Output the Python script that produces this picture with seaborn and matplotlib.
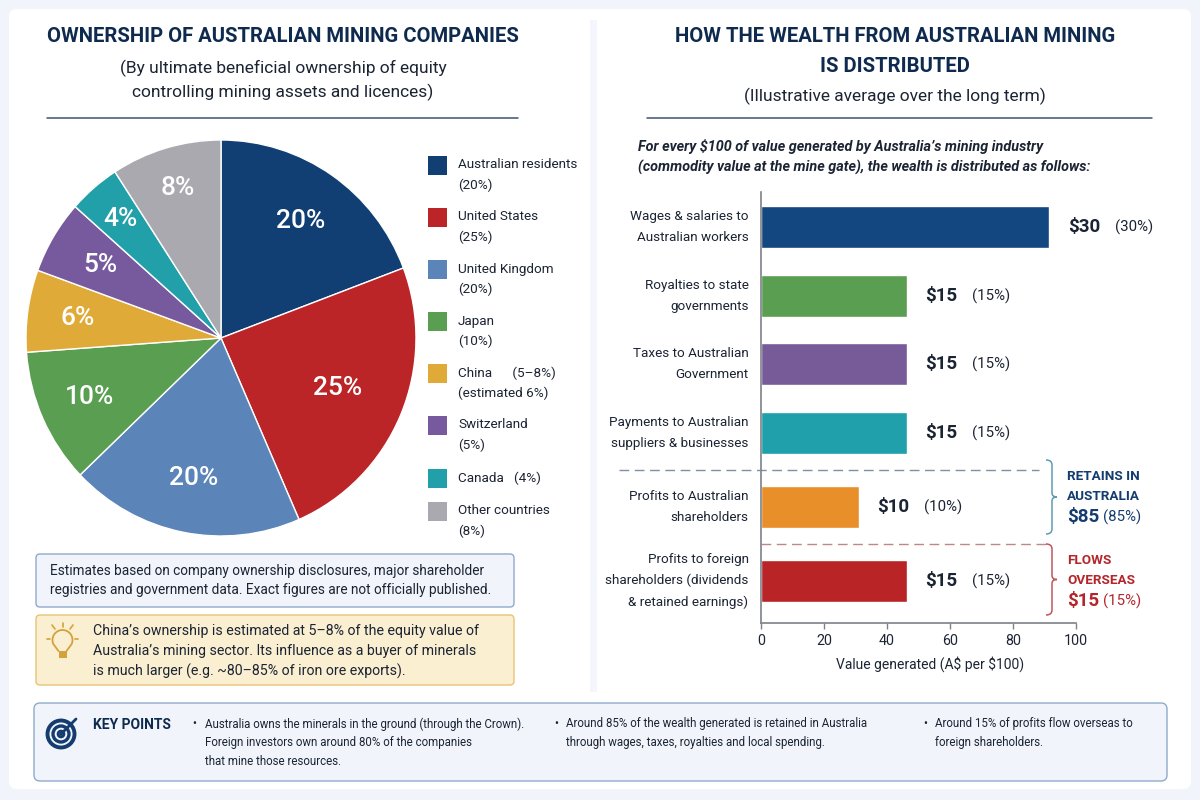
import matplotlib
matplotlib.use("Agg")
import matplotlib.pyplot as plt
import seaborn as sns
import pandas as pd
import numpy as np
from matplotlib.patches import FancyBboxPatch, Rectangle, Circle, PathPatch
from matplotlib.path import Path

# ---------- data ----------
owners = ["Australian residents", "United States", "United Kingdom", "Japan",
          "China", "Switzerland", "Canada", "Other countries"]
legend_labels = ["Australian residents\n(20%)", "United States\n(25%)", "United Kingdom\n(20%)",
                 "Japan\n(10%)", "China      (5–8%)\n(estimated 6%)", "Switzerland\n(5%)",
                 "Canada   (4%)", "Other countries\n(8%)"]
pie_labels = ["20%", "25%", "20%", "10%", "6%", "5%", "4%", "8%"]
# wedge sizes as drawn in the picture
pie_shares = [19.25, 24.2, 19.4, 11.0, 6.7, 6.0, 4.3, 9.15]
pie_colors = ["#123F73", "#BB2528", "#5B84B8", "#5A9E52", "#E0AA38", "#775A9E", "#22A0AA", "#A9A9AF"]

uses = ["Wages & salaries to\nAustralian workers", "Royalties to state\ngovernments",
        "Taxes to Australian\nGovernment", "Payments to Australian\nsuppliers & businesses",
        "Profits to Australian\nshareholders",
        "Profits to foreign\nshareholders (dividends\n& retained earnings)"]
# bar lengths as read on the drawn axis
bar_lengths = [91.5, 46.3, 46.3, 46.3, 31.0, 46.3]
dollars = ["$30", "$15", "$15", "$15", "$10", "$15"]
percents = ["(30%)", "(15%)", "(15%)", "(15%)", "(10%)", "(15%)"]
bar_colors = ["#12487F", "#5A9E52", "#775A98", "#1FA0AA", "#E88F2A", "#B92427"]
row_y = [227, 296, 364, 433, 507, 581]

sns.set_theme(style="white")
plt.rcParams["font.family"] = ["Roboto", "DejaVu Sans"]

INK = "#1B2433"
NAVY = "#143C6E"
TITLE_INK = "#0F2A4F"
RED = "#B3262B"

fig = plt.figure(figsize=(12, 8), dpi=100, facecolor="#F1F5FB")

# overlay in pixel coordinates
bg = fig.add_axes([0, 0, 1, 1], zorder=0)
bg.set_xlim(0, 1200)
bg.set_ylim(800, 0)
bg.axis("off")


def box(x0, y0, x1, y1, fc, ec, r=5, lw=1.0, z=1):
    bg.add_patch(FancyBboxPatch((x0 + r, y0 + r), x1 - x0 - 2 * r, y1 - y0 - 2 * r,
                                boxstyle=f"round,pad={r},rounding_size={r}",
                                fc=fc, ec=ec, lw=lw, zorder=z))


def txt(x, y, s, size=10, color=INK, ha="left", weight="normal", style="normal", z=5):
    return bg.text(x, y, s, fontsize=size, color=color, ha=ha, va="center", weight=weight,
                   style=style, zorder=z)


box(9, 9, 1191, 789, "#FFFFFF", "none", r=8, lw=0)
bg.add_patch(Rectangle((590, 20), 7, 672, fc="#F3F6FC", ec="none", zorder=2))

# headers
TITLE = 14.6
txt(283, 37, "OWNERSHIP OF AUSTRALIAN MINING COMPANIES", TITLE, TITLE_INK, "center", "bold")
txt(283, 68, "(By ultimate beneficial ownership of equity", 12.5, INK, "center")
txt(283, 92, "controlling mining assets and licences)", 12.5, INK, "center")
bg.plot([47, 518], [118, 118], color="#3D5470", lw=1.1, zorder=3)

txt(895, 37, "HOW THE WEALTH FROM AUSTRALIAN MINING", TITLE, TITLE_INK, "center", "bold")
txt(895, 66, "IS DISTRIBUTED", TITLE, TITLE_INK, "center", "bold")
txt(895, 96, "(Illustrative average over the long term)", 12.5, INK, "center")
bg.plot([647, 1152], [118, 118], color="#3D5470", lw=1.1, zorder=3)

txt(638, 146, r"For every \$100 of value generated by Australia’s mining industry", 10.4, INK, weight="bold", style="italic")
txt(638, 167, "(commodity value at the mine gate), the wealth is distributed as follows:", 10.4, INK, weight="bold", style="italic")

# pie
pie_ax = fig.add_axes([26 / 1200, 1 - 536 / 800, 390 / 1200, 396 / 800], zorder=3)
wedges, label_texts = pie_ax.pie(pie_shares, colors=pie_colors, labels=pie_labels, startangle=90,
                                 counterclock=False, labeldistance=0.73, radius=1,
                                 wedgeprops=dict(edgecolor="white", linewidth=1.0),
                                 textprops=dict(color="white", fontsize=19, weight="medium"))
label_radius = [0.72, 0.65, 0.72, 0.74, 0.74, 0.72, 0.79, 0.79]
for t, w, rad in zip(label_texts, wedges, label_radius):
    t.set_ha("center")
    t.set_va("center")
    a = np.deg2rad((w.theta1 + w.theta2) / 2)
    t.set_position((rad * np.cos(a), rad * np.sin(a)))
pie_ax.set_xlim(-1, 1)
pie_ax.set_ylim(-1, 1)
pie_ax.set_aspect("auto")

# legend
legend_y = [165, 217, 269, 321, 373, 425, 478, 511]
for col, lab, y in zip(pie_colors, legend_labels, legend_y):
    bg.add_patch(Rectangle((428, y - 9), 18.5, 18.5, fc=col, ec="none", zorder=4))
    for i, line in enumerate(lab.split("\n")):
        txt(458, y + i * 20, line, 9.7, INK)

# note boxes
box(36, 554, 514, 607, "#F1F5FB", "#8FAACB", r=4)
txt(50, 571, "Estimates based on company ownership disclosures, major shareholder", 9.8)
txt(50, 590, "registries and government data. Exact figures are not officially published.", 9.8)
box(36, 615, 514, 685, "#FBEFD2", "#E8C474", r=4)
for i, line in enumerate(["China’s ownership is estimated at 5–8% of the equity value of",
                          "Australia’s mining sector. Its influence as a buyer of minerals",
                          "is much larger (e.g. ~80–85% of iron ore exports)."]):
    txt(93, 631 + i * 20, line, 10.2)
# bulb icon
B = "#D3A23A"
theta = np.deg2rad(np.linspace(-25, 205, 40))
bulb_x = np.r_[58.5, 62.5 + 10 * np.cos(theta[::-1]), 66.5]
bulb_y = np.r_[651, 640 - 10 * np.sin(theta[::-1]), 651]
bg.plot(bulb_x, bulb_y, color=B, lw=1.3, zorder=5)
bg.add_patch(Rectangle((58.5, 651), 8, 7, fc=B, ec="none", zorder=5))
for x0, y0, x1, y1 in [(62.5, 623, 62.5, 627), (52, 625, 55, 629), (73, 625, 70, 629),
                       (47, 639, 50, 639), (75, 639, 78, 639)]:
    bg.plot([x0, x1], [y0, y1], color=B, lw=1.2, zorder=5)

# key points
box(34, 703, 1167, 781, "#F1F5FB", "#8FAACB", r=6)
for r_, lw_ in [(13.5, 2.8), (8, 2.4), (2.8, 2.2)]:
    bg.add_patch(Circle((61, 734), r_, fc="none", ec=NAVY, lw=lw_, zorder=5))
bg.plot([61, 76], [734, 719], color=NAVY, lw=2.0, zorder=6)
txt(93, 725, "KEY POINTS", 10, TITLE_INK, weight="bold")
columns = [(194, 205, ["Australia owns the minerals in the ground (through the Crown).",
                       "Foreign investors own around 80% of the companies",
                       "that mine those resources."]),
           (556, 566, ["Around 85% of the wealth generated is retained in Australia",
                       "through wages, taxes, royalties and local spending."]),
           (925, 935, ["Around 15% of profits flow overseas to", "foreign shareholders."])]
for bx, tx, lines in columns:
    txt(bx, 724, "•", 8.4, ha="center")
    for i, line in enumerate(lines):
        txt(tx, 724 + i * 18.7, line, 8.3)

# bars: axes span pixel rows 192..623 vertically, 761..1076 horizontally
bar_ax = fig.add_axes([761 / 1200, 1 - 623 / 800, 315 / 1200, 431 / 800], zorder=3)
bar_ax.patch.set_alpha(0)
df = pd.DataFrame({"use": uses, "length": bar_lengths, "row": row_y})
sns.barplot(data=df, x="length", y="row", hue="use", palette=bar_colors, orient="h",
            native_scale=True, dodge=False, width=0.62, legend=False, saturation=1, ax=bar_ax)
bar_ax.set_xlim(0, 100)
bar_ax.set_ylim(623, 192)
bar_ax.set_xticks(range(0, 101, 20))
bar_ax.set_yticks(row_y)
bar_ax.set_yticklabels(uses, fontsize=9.7, color=INK, linespacing=1.75, ha="right", va="center")
bar_ax.tick_params(axis="y", length=0, pad=9)
bar_ax.tick_params(axis="x", length=4, width=1, color="#7D8288", labelsize=10.3, labelcolor=INK, pad=4, bottom=True)
bar_ax.set_xlabel(r"Value generated (A\$ per \$100)", fontsize=10, color=INK, labelpad=6, x=0.537)
bar_ax.set_ylabel("")
for s in ("top", "right"):
    bar_ax.spines[s].set_visible(False)
for s in ("left", "bottom"):
    bar_ax.spines[s].set_color("#7D8288")
    bar_ax.spines[s].set_linewidth(1.2)
for y, v, d, p in zip(row_y, bar_lengths, dollars, percents):
    bar_ax.annotate(d.replace("$", r"\$"), (v, y), xytext=(13.5, 0), textcoords="offset points", va="center", ha="left",
                    fontsize=13.5, weight="bold", color=INK)
    bar_ax.annotate(p, (v, y), xytext=(47, 0), textcoords="offset points", va="center", ha="left",
                    fontsize=10.8, color=INK)

# separators + braces
bg.plot([619, 1039], [470, 470], color="#7F8FA8", lw=1, ls=(0, (7, 4)), zorder=4)
bg.plot([761, 1046], [544, 544], color="#C0868A", lw=1, ls=(0, (7, 4)), zorder=4)


def brace(y0, y1, color):
    x, m, k = 1052, (y0 + y1) / 2, 5
    verts = [(x - 6, y0), (x, y0), (x, y0 + k), (x, m - 4), (x, m), (x + 5, m), (x, m), (x, m + 4),
             (x, y1 - k), (x, y1), (x - 6, y1)]
    codes = [Path.MOVETO, Path.CURVE3, Path.CURVE3, Path.LINETO, Path.CURVE3, Path.CURVE3,
             Path.CURVE3, Path.CURVE3, Path.LINETO, Path.CURVE3, Path.CURVE3]
    bg.add_patch(PathPatch(Path(verts, codes), fc="none", ec=color, lw=1.1, zorder=4))


brace(460, 534, "#5E9DB0")
brace(544, 615, "#C0565A")
txt(1067, 476, "RETAINS IN", 9.7, NAVY, weight="bold")
txt(1067, 496, "AUSTRALIA", 9.7, NAVY, weight="bold")
txt(1067, 517, r"\$85", 13.5, NAVY, weight="bold")
txt(1103, 517, "(85%)", 10.8, NAVY)
txt(1067, 560, "FLOWS", 9.7, RED, weight="bold")
txt(1067, 580, "OVERSEAS", 9.7, RED, weight="bold")
txt(1067, 601, r"\$15", 13.5, RED, weight="bold")
txt(1103, 601, "(15%)", 10.8, RED)

fig.savefig("out.png", dpi=100, facecolor=fig.get_facecolor())
